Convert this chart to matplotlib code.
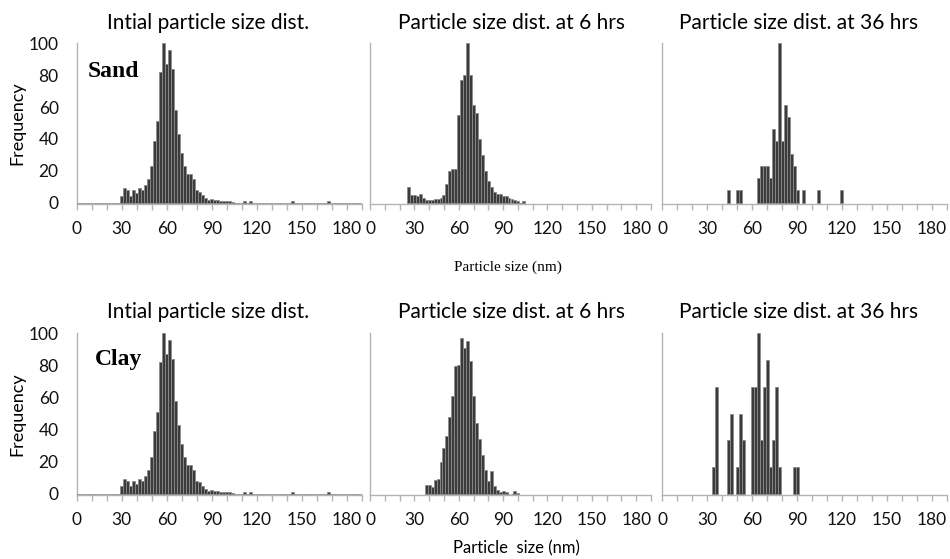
import numpy as np
import matplotlib
matplotlib.use("Agg")
import matplotlib.pyplot as plt

SANS = ["Lato", "DejaVu Sans"]
SERIF = ["Liberation Serif", "DejaVu Serif"]

# ---- data: normalised frequency per 2 nm size bin ----
full_sizes = list(range(0, 192, 2))

initial_dist = [
    0, 0, 0, 0, 0, 0, 0, 0, 0, 0, 0, 0, 0, 0, 0,          # 0-28
    4.5, 9, 8, 4.5, 8, 6, 9, 8, 11, 15,                     # 30-48
    23, 39, 51, 82, 100, 87, 96, 84, 58, 43,                # 50-68
    31, 23, 18, 18, 15, 8, 7, 5, 3, 2,                      # 70-88
    2.5, 1.5, 1.5, 1, 0.8, 0.8, 0.8, 0.5, 0, 0,             # 90-108
    0, 0.8, 0, 0.8, 0, 0, 0, 0, 0, 0,                       # 110-128
    0, 0, 0, 0, 0, 0, 0, 0.8, 0, 0,                         # 130-148
    0, 0, 0, 0, 0, 0, 0, 0, 0, 0.8,                         # 150-168
    0, 0, 0, 0, 0, 0, 0, 0, 0, 0, 0,                        # 170-190
]

sand_6h_sizes = list(range(26, 106, 2))
sand_6h = [
    10, 4.6, 5, 4.2, 5.4, 3, 1.7, 1.6, 1.8, 2.2,            # 26-44
    2.5, 3, 4.6, 11.5, 20, 21, 21, 55, 77, 80,              # 46-64
    100, 80, 61, 56, 40, 30, 20, 13.5, 10, 7,               # 66-84
    5.6, 5.4, 4.5, 4, 3, 2.4, 1.6, 1.2, 0, 1,               # 86-104
]

sand_36h_sizes = [44, 50, 52, 64, 66, 68, 70, 72, 74, 76, 78, 80, 82, 84,
                  86, 88, 90, 94, 104, 120]
sand_36h_counts = [1, 1, 1, 2, 3, 3, 3, 2, 6, 5, 13, 5, 8, 7,
                   4, 3, 1, 1, 1, 1]

clay_6h_sizes = list(range(38, 102, 2))
clay_6h = [
    5.6, 5.6, 4, 8.5, 8.9, 20, 28.7, 35.7, 47.6, 61,        # 38-56
    79.6, 80, 97, 91, 95.5, 83, 61, 44, 34, 24,             # 58-76
    15, 8, 14, 5, 2.3, 1, 1.4, 1, 0, 0,                     # 78-96
    1.6, 0.6,                                               # 98-100
]

clay_36h_sizes = [34, 36, 44, 46, 50, 52, 54, 60, 62, 64, 66, 68, 70, 72,
                  74, 76, 78, 88, 90]
clay_36h_counts = [1, 4, 2, 3, 1, 3, 2, 4, 4, 6, 2, 4, 5, 1,
                   2, 4, 1, 1, 1]


def normalise(counts):
    counts = np.asarray(counts, dtype=float)
    return 100.0 * counts / counts.max()


panels = [
    [(full_sizes, initial_dist), (sand_6h_sizes, sand_6h),
     (sand_36h_sizes, normalise(sand_36h_counts))],
    [(full_sizes, initial_dist), (clay_6h_sizes, clay_6h),
     (clay_36h_sizes, normalise(clay_36h_counts))],
]
titles = ["Intial particle size dist.", "Particle size dist. at 6 hrs",
          "Particle size dist. at 36 hrs"]
soil_labels = ["Sand", "Clay"]

BAR_FILL = "#3b3b3b"
BAR_EDGE = "#8c8c8c"
AXIS_GRAY = "#b4b4b4"

fig = plt.figure(figsize=(9.5, 5.59), dpi=100)

W, H = 950.0, 559.0
col_left = [76.7, 370.0, 662.3]
col_width = [285.0, 281.0, 284.5]
row_top = [43.3, 333.3]
row_bottom = [204.0, 495.0]
title_x = [208, 512, 799]
title_y = [23, 312]
soil_pos = [(88, 71), (95, 360)]

for r in range(2):
    for c in range(3):
        left = col_left[c] / W
        bottom = 1 - row_bottom[r] / H
        height = (row_bottom[r] - row_top[r]) / H
        ax = fig.add_axes([left, bottom, col_width[c] / W, height])
        sizes, vals = panels[r][c]
        ax.bar(sizes, vals, width=2.0, color=BAR_FILL, edgecolor=BAR_EDGE,
               linewidth=0.6, zorder=3)
        ax.set_xlim(0, 190)
        ax.set_ylim(-0.8, 100)

        for side in ("top", "right"):
            ax.spines[side].set_visible(False)
        for side in ("left", "bottom"):
            ax.spines[side].set_color(AXIS_GRAY)
            ax.spines[side].set_linewidth(1.0)

        xt = list(range(0, 191, 10))
        ax.set_xticks(xt)
        ax.set_xticklabels([str(v) if v % 30 == 0 and v <= 180 else "" for v in xt],
                           fontfamily=SANS, fontsize=12.5)
        ax.tick_params(axis="x", length=4, width=1.0, color=AXIS_GRAY,
                       pad=8, labelcolor="#111111")
        ax.set_yticks(range(0, 101, 20))
        if c == 0:
            ax.set_yticklabels([str(v) for v in range(0, 101, 20)],
                               fontfamily=SANS, fontsize=12.5)
            ax.tick_params(axis="y", length=0, pad=13, labelcolor="#111111")
            ax.set_ylabel("Frequency", fontfamily=SANS, fontsize=13, labelpad=2)
            sx, sy = soil_pos[r]
            fig.text(sx / W, 1 - sy / H, soil_labels[r], fontfamily=SERIF,
                     fontweight="bold", fontsize=17, ha="left", va="center")
        else:
            ax.set_yticklabels([])
            ax.tick_params(axis="y", length=0)
        fig.text(title_x[c] / W, 1 - title_y[r] / H, titles[c],
                 fontfamily=SANS, fontsize=15, ha="center", va="center")

fig.text(508 / W, 1 - 267 / H, "Particle size (nm)", fontfamily=SERIF,
         fontsize=11, ha="center", va="center")
fig.text(516 / W, 1 - 548 / H, "Particle  size (nm)", fontfamily=SANS,
         fontsize=12, ha="center", va="center")

fig.savefig("out.png", dpi=100)
